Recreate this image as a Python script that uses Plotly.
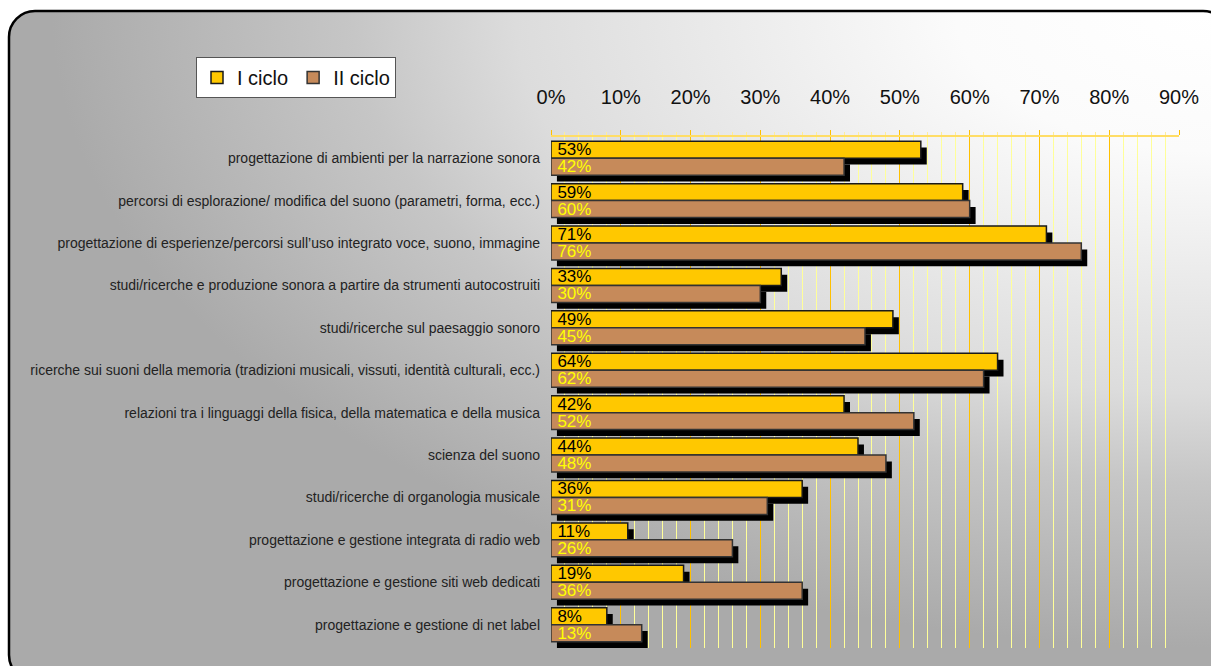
import base64
import plotly.graph_objects as go

categories = [
    "progettazione di ambienti per la narrazione sonora",
    "percorsi di esplorazione/ modifica del suono (parametri, forma, ecc.)",
    "progettazione di esperienze/percorsi sull’uso integrato voce, suono, immagine",
    "studi/ricerche e produzione sonora a partire da strumenti autocostruiti",
    "studi/ricerche sul paesaggio sonoro",
    "ricerche sui suoni della memoria (tradizioni musicali, vissuti, identità culturali, ecc.)",
    "relazioni tra i linguaggi della fisica, della matematica e della musica",
    "scienza del suono",
    "studi/ricerche di organologia musicale",
    "progettazione e gestione integrata di radio web",
    "progettazione e gestione siti web dedicati",
    "progettazione e gestione di net label",
]
ciclo1 = [0.53, 0.59, 0.71, 0.33, 0.49, 0.64, 0.42, 0.44, 0.36, 0.11, 0.19, 0.08]
ciclo2 = [0.42, 0.60, 0.76, 0.30, 0.45, 0.62, 0.52, 0.48, 0.31, 0.26, 0.36, 0.13]
series_names = ["I ciclo", "II ciclo"]

W, H = 1211, 666
L, R, T, B = 551, 32, 137, 18
PW, PH = W - L - R, H - T - B

FONT = "Liberation Sans, Arial, sans-serif"

svg = f'''<svg xmlns="http://www.w3.org/2000/svg" width="{W}" height="{H}" viewBox="0 0 {W} {H}">
<defs><radialGradient id="g" cx="0.985" cy="0" r="0.95" gradientUnits="objectBoundingBox">
<stop offset="0" stop-color="#ffffff"/>
<stop offset="0.22" stop-color="#fbfbfb"/>
<stop offset="0.6" stop-color="#dcdcdc"/>
<stop offset="0.74" stop-color="#c6c6c6"/>
<stop offset="1" stop-color="#aaaaaa"/>
</radialGradient></defs>
<rect x="9" y="11" width="1220" height="670" rx="26" ry="26" fill="url(#g)" stroke="#000" stroke-width="2.5"/>
</svg>'''
src = "data:image/svg+xml;base64," + base64.b64encode(svg.encode()).decode()

SH_X = 0.0085   # shadow offset (x, data units)
SH_Y = 0.15     # shadow offset (category units)
BW = 0.4

fig = go.Figure()
# shadows
for vals, off in ((ciclo1, -BW), (ciclo2, 0.0)):
    fig.add_trace(go.Bar(
        y=categories, x=vals, base=SH_X, orientation="h",
        width=BW, offset=off + SH_Y,
        marker=dict(color="#000000", line=dict(width=0)),
        showlegend=False, hoverinfo="skip",
    ))

fig.add_trace(go.Bar(
    name=series_names[0], y=categories, x=ciclo1, orientation="h",
    width=BW, offset=-BW,
    marker=dict(color="#FFC800", line=dict(color="#1a1a1a", width=1.5)),
    text=[f"\u2009{round(v*100)}%" for v in ciclo1],
    textposition="inside", insidetextanchor="start", constraintext="none",
    textfont=dict(family=FONT, size=17, color="#000000"),
    textangle=0,
))
fig.add_trace(go.Bar(
    name=series_names[1], y=categories, x=ciclo2, orientation="h",
    width=BW, offset=0.0,
    marker=dict(color="#C68A5A", line=dict(color="#333333", width=1.5)),
    text=[f"\u2009{round(v*100)}%" for v in ciclo2],
    textposition="inside", insidetextanchor="start", constraintext="none",
    textfont=dict(family=FONT, size=17, color="#FFFF00"),
    textangle=0,
))

fig.update_layout(
    width=W, height=H,
    margin=dict(l=L, r=R, t=T, b=B, pad=0),
    paper_bgcolor="#ffffff",
    plot_bgcolor="rgba(0,0,0,0)",
    barmode="overlay",
    font=dict(family=FONT, color="#222222"),
    images=[dict(
        source=src, xref="paper", yref="paper",
        x=-L / PW, y=1 + T / PH, sizex=W / PW, sizey=H / PH,
        xanchor="left", yanchor="top", sizing="stretch", layer="below",
    )],
    xaxis=dict(
        side="top", range=[0, 0.9], dtick=0.1, tick0=0, tickformat=".0%",
        showgrid=True, gridcolor="#FFC000", gridwidth=1,
        zeroline=False,
        showline=True, linecolor="#FFDD66", linewidth=2,
        ticks="outside", ticklen=5, tickcolor="#FFC000", tickwidth=1,
        ticklabelstandoff=18,
        tickfont=dict(family=FONT, size=20, color="#111111"),
        minor=dict(dtick=0.02, showgrid=True, gridcolor="#FFFF99", gridwidth=1,
                   ticks="outside", ticklen=3, tickcolor="#FFEE99"),
    ),
    yaxis=dict(
        type="category", categoryorder="array", categoryarray=categories,
        autorange="reversed", showgrid=False, zeroline=False, showline=False,
        ticks="", ticklabelstandoff=10,
        tickfont=dict(family=FONT, size=14, color="#222222"),
    ),
    legend=dict(
        orientation="h", x=(196 - L) / PW, y=1 + (T - 57) / PH,
        xanchor="left", yanchor="top",
        bgcolor="#ffffff", bordercolor="#555555", borderwidth=1,
        font=dict(family=FONT, size=20, color="#111111"),
        itemwidth=30, traceorder="normal",
    ),
)

fig.write_html("out.html")
